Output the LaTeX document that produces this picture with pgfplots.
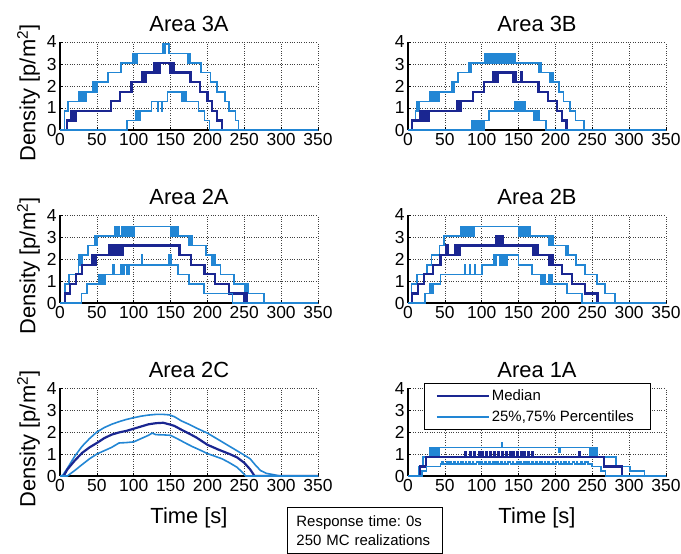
\documentclass[border=0pt]{standalone}
\usepackage{fontspec}
\setmainfont{Liberation Sans}
\usepackage{pgfplots}
\pgfplotsset{compat=1.18}

\definecolor{medcol}{RGB}{26,38,145}
\definecolor{pctcol}{RGB}{34,134,212}

\pgfplotsset{
  panel/.style={
    scale only axis, width=258bp, height=88bp, anchor=north west,
    xmin=0, xmax=350, ymin=0, ymax=4,
    xtick={0,50,...,350}, ytick={0,1,2,3,4},
    axis lines=left, axis line style={-, line width=1.1pt},
    grid=major, grid style={dotted, black!75, line width=0.6pt},
    tick style={black, line width=0.6pt}, tick align=inside, major tick length=3bp,
    ticklabel style={font=\fontsize{17.5}{17.5}\selectfont},
    /pgf/number format/assume math mode=true,
    title style={font=\fontsize{22}{22}\selectfont, yshift=1bp},
    label style={font=\fontsize{22}{22}\selectfont},
    xlabel style={yshift=-9bp},
    ylabel style={at={(ticklabel cs:0.42)}},
  },
  med/.style={medcol, line width=2.2pt, const plot, forget plot},
  pct/.style={pctcol, line width=1.6pt, const plot, forget plot},
}

\begin{document}
\begin{tikzpicture}
\useasboundingbox (0,0) rectangle (681bp,-554bp);

% ---------------- Area 3A ----------------
\begin{axis}[panel, at={(60bp,-42bp)}, title={Area 3A}, ylabel={Density [p/m\textsuperscript{2}]}]
\addplot[pct] coordinates {(0,0)(6,0.87)(11,1.30)(25,1.74)(26,1.30)(27,1.74)(28,1.30)(29,1.74)(30,1.30)(31,1.74)(32,1.30)(33,1.74)(34,1.30)(35,1.74)
 (45,2.17)(46,1.74)(47,2.17)(48,1.74)(49,2.17)(50,1.74)(51,2.17)(65,2.61)(83,3.04)
 (99,3.48)(100,3.04)(101,3.48)(102,3.04)(103,3.48)(104,3.04)(105,3.48)(139,3.91)(140,3.48)(141,3.91)(142,3.48)(143,3.91)(148,3.48)
 (173,3.04)(174,3.48)(175,3.04)(176,3.48)(177,3.04)(191,2.61)(204,2.17)(213,1.74)(224,1.30)(229,0.87)(238,0.43)(242,0)(350,0)};
\addplot[med] coordinates {(0,0)(9,0.43)(15,0.87)(17,0.43)(18,0.87)(19,0.43)(20,0.87)(21,0.43)(22,0.87)(69,1.30)(81,1.74)(96,2.17)(97,1.74)(98,2.17)
 (112,2.61)(113,2.17)(115,2.61)(116,2.17)(117,2.61)(128,3.04)(129,2.61)(130,3.04)(131,2.61)(132,3.04)(134,2.61)(135,3.04)
 (150,2.61)(151,3.04)(152,2.61)(153,3.04)(154,2.61)(177,2.17)(190,1.74)(200,1.30)(206,0.87)(213,0.43)(220,0)(350,0)};
\addplot[pct] coordinates {(0,0)(91,0.43)(103,0.87)(104,0.43)(105,0.87)(106,0.43)(107,0.87)(108,0.43)(109,0.87)(124,1.30)(132,0.87)(133,1.30)(138,0.87)(139,1.30)
 (146,1.74)(165,1.30)(166,1.74)(167,1.30)(168,1.74)(169,1.30)(170,1.74)(171,1.30)(188,0.87)(196,0.43)(203,0)(350,0)};
\end{axis}

% ---------------- Area 3B ----------------
\begin{axis}[panel, at={(408bp,-42bp)}, title={Area 3B}]
\addplot[pct] coordinates {(0,0)(5,0.43)(10,0.87)(12,1.30)(14,0.87)(15,1.30)
 (30,1.74)(31,1.30)(32,1.74)(33,1.30)(34,1.74)(35,1.30)(36,1.74)(37,1.30)(38,1.74)(39,1.30)(40,1.74)(41,1.30)(42,1.74)
 (59,2.17)(60,1.74)(61,2.17)(62,1.74)(63,2.17)(68,2.61)(82,3.04)(83,2.61)(84,3.04)(85,2.61)(86,3.04)
 (104,3.48)(105,3.04)(106,3.48)(107,3.04)(108,3.48)(110,3.04)(111,3.48)(113,3.04)(114,3.48)(116,3.04)(117,3.48)(119,3.04)(120,3.48)
 (122,3.04)(123,3.48)(125,3.04)(126,3.48)(128,3.04)(129,3.48)(131,3.04)(132,3.48)(134,3.04)(135,3.48)(137,3.04)(138,3.48)(140,3.04)(141,3.48)(143,3.04)(144,3.48)(145,3.04)
 (177,2.61)(178,3.04)(179,2.61)(180,3.04)(181,2.61)(193,2.17)(194,2.61)(195,2.17)(196,2.61)(197,2.17)
 (205,1.74)(211,1.30)(220,0.87)(227,0.43)(239,0)(350,0)};
\addplot[med] coordinates {(0,0)(5,0.43)(16,0.87)(17,0.43)(18,0.87)(19,0.43)(20,0.87)(21,0.43)(22,0.87)(23,0.43)(24,0.87)(25,0.43)(26,0.87)(27,0.43)(28,0.87)
 (66,1.30)(67,0.87)(68,1.30)(69,0.87)(70,1.30)(71,0.87)(72,1.30)(88,1.74)(103,2.17)
 (116,2.61)(117,2.17)(118,2.61)(119,2.17)(120,2.61)(121,2.17)(122,2.61)
 (143,2.17)(144,2.61)(145,2.17)(146,2.61)(147,2.17)(153,2.61)(154,2.17)(177,1.74)(190,1.30)(202,0.87)(209,0.43)(215,0)(350,0)};
\addplot[pct] coordinates {(0,0)(86,0.43)(87,0)(88,0.43)(89,0)(90,0.43)(91,0)(92,0.43)(93,0)(94,0.43)(95,0)(96,0.43)(97,0)(98,0.43)(99,0)(100,0.43)(101,0)(102,0.43)(103,0)(104,0.43)
 (110,0.87)(145,1.30)(146,0.87)(147,1.30)(148,0.87)(149,1.30)(150,0.87)(151,1.30)(152,0.87)(153,1.30)(154,0.87)(155,1.30)(157,0.87)(158,1.30)(159,0.87)
 (170,0.43)(171,0.87)(172,0.43)(173,0.87)(174,0.43)(175,0.87)(176,0.43)(177,0.87)(178,0.43)(187,0)(350,0)};
\end{axis}

% ---------------- Area 2A ----------------
\begin{axis}[panel, at={(60bp,-215bp)}, title={Area 2A}, ylabel={Density [p/m\textsuperscript{2}]}]
\addplot[pct] coordinates {(0,0)(7,0.87)(12,1.30)(25,1.74)(26,2.17)(27,1.74)(28,2.17)(29,1.74)(30,2.17)(38,2.61)(47,3.04)(48,2.61)(49,3.04)(50,2.61)(51,3.04)
 (75,3.48)(76,3.04)(79,3.48)(80,3.04)(84,3.48)(85,3.04)(86,3.48)(87,3.04)(88,3.48)(89,3.04)(90,3.48)(91,3.04)(92,3.48)(93,3.04)(94,3.48)(95,3.04)(96,3.48)(97,3.04)(98,3.48)(99,3.04)(100,3.48)
 (150,3.04)(151,3.48)(152,3.04)(153,3.48)(155,3.04)(156,3.48)(158,3.04)(159,3.48)(161,3.04)
 (175,2.61)(176,3.04)(177,2.61)(178,3.04)(179,2.61)(198,2.17)(206,1.74)(207,2.17)(208,1.74)(209,2.17)(210,1.74)
 (218,1.30)(236,0.87)(251,0.43)(252,0.87)(253,0.43)(254,0.87)(255,0.43)(277,0)(350,0)};
\addplot[med] coordinates {(0,0)(7,0.43)(14,0.87)(22,1.30)(30,1.74)(43,2.17)(44,1.74)(45,2.17)(46,1.74)(47,2.17)(48,1.74)(49,2.17)
 (66,2.61)(67,2.17)(68,2.61)(69,2.17)(70,2.61)(71,2.17)(72,2.61)(73,2.17)(74,2.61)(75,2.17)(76,2.61)(77,2.17)(78,2.61)(79,2.17)(80,2.61)(81,2.17)(82,2.61)(83,2.17)(84,2.61)(85,2.17)(86,2.61)
 (162,2.17)(178,1.74)(196,1.30)(210,0.87)(229,0.43)(250,0)(251,0.43)(252,0)(253,0.43)(254,0)(350,0)};
\addplot[pct] coordinates {(0,0)(29,0.43)(37,0.87)(52,1.30)(53,0.87)(54,1.30)(55,0.87)(56,1.30)(57,0.87)(58,1.30)(59,0.87)(60,1.30)(61,0.87)(62,1.30)
 (72,1.74)(73,1.30)(82,1.74)(83,1.30)(84,1.74)(86,1.30)(87,1.74)(90,1.30)(91,1.74)(93,1.30)(94,1.74)
 (111,2.17)(112,1.74)(148,2.17)(149,1.74)(150,2.17)(151,1.74)(160,1.30)(175,0.87)(195,0.43)(234,0)(350,0)};
\end{axis}

% ---------------- Area 2B ----------------
\begin{axis}[panel, at={(408bp,-215bp)}, title={Area 2B}]
\addplot[pct] coordinates {(0,0)(5,0.87)(12,1.30)(26,1.74)(32,2.17)(43,2.61)(49,3.04)
 (72,3.48)(73,3.04)(74,3.48)(75,3.04)(76,3.48)(77,3.04)(78,3.48)(79,3.04)(80,3.48)(81,3.04)(82,3.48)(83,3.04)(84,3.48)(85,3.04)(86,3.48)(87,3.04)(88,3.48)(89,3.04)(90,3.48)
 (150,3.04)(151,3.48)(152,3.04)(153,3.48)(154,3.04)(155,3.48)(156,3.04)(157,3.48)(158,3.04)(159,3.48)(160,3.04)(161,3.48)(162,3.04)(163,3.48)(164,3.04)(165,3.48)(166,3.04)
 (191,2.61)(192,3.04)(193,2.61)(194,3.04)(195,2.61)(196,3.04)(197,2.61)(214,2.17)(215,2.61)(216,2.17)(217,2.61)(218,2.17)
 (228,1.74)(240,1.30)(256,0.87)(267,0.43)(281,0)(350,0)};
\addplot[med] coordinates {(0,0)(5,0.43)(14,0.87)(22,1.30)(34,1.74)(44,2.17)(51,2.61)(52,2.17)(53,2.61)(54,2.17)
 (64,2.61)(65,2.17)(66,2.61)(67,2.17)(68,2.61)(69,2.17)(70,2.61)(120,3.04)(121,2.61)(124,3.04)(125,2.61)(128,3.04)(129,2.61)
 (170,2.17)(171,2.61)(172,2.17)(173,2.61)(174,2.17)(175,2.61)(176,2.17)(192,1.74)(193,2.17)(194,1.74)(195,2.17)(196,1.74)
 (209,1.30)(223,0.87)(240,0.43)(257,0)(350,0)};
\addplot[pct] coordinates {(0,0)(23,0.43)(30,0.87)(31,0.43)(32,0.87)(33,0.43)(34,0.87)(44,1.30)(77,1.74)(78,1.30)(84,1.74)(85,1.30)(90,1.74)(91,1.30)
 (100,1.74)(116,2.17)(117,1.74)(118,2.17)(119,1.74)(120,2.17)(125,1.74)(126,2.17)(128,1.74)(129,2.17)(131,1.74)(132,2.17)(134,1.74)(135,2.17)
 (150,1.74)(168,1.30)(180,0.87)(181,1.30)(182,0.87)(183,1.30)(184,0.87)(185,1.30)(186,0.87)(191,1.30)(192,0.87)(194,1.30)(195,0.87)
 (216,0.43)(236,0)(350,0)};
\end{axis}

% ---------------- Area 2C ----------------
\begin{axis}[panel, at={(60bp,-388bp)}, title={Area 2C}, ylabel={Density [p/m\textsuperscript{2}]}, xlabel={Time [s]}]
\addplot[pct, sharp plot] coordinates {(0,0)(3,0)(10,0.35)(20,0.9)(30,1.35)(40,1.7)(50,2.0)(60,2.2)(70,2.35)(80,2.47)(90,2.57)(100,2.65)(110,2.72)(120,2.77)(130,2.8)(140,2.8)(148,2.78)
 (155,2.7)(165,2.5)(175,2.35)(185,2.18)(200,1.95)(215,1.65)(230,1.35)(240,1.15)(250,0.95)(258,0.78)(265,0.5)(272,0.25)(280,0.12)(290,0.06)(298,0)(350,0)};
\addplot[med, sharp plot] coordinates {(0,0)(5,0)(10,0.3)(20,0.7)(30,1.05)(40,1.3)(50,1.5)(60,1.72)(70,1.88)(80,1.98)(90,2.05)(100,2.15)(110,2.25)(120,2.35)(130,2.4)(140,2.42)(148,2.35)
 (155,2.28)(165,2.1)(175,1.93)(185,1.75)(200,1.42)(215,1.2)(230,1.0)(240,0.85)(250,0.6)(258,0.3)(264,0)(350,0)};
\addplot[pct, sharp plot] coordinates {(0,0)(10,0)(20,0.25)(30,0.52)(40,0.78)(50,1.0)(60,1.15)(70,1.3)(80,1.5)(90,1.52)(100,1.55)(110,1.7)(120,1.85)(125,1.95)(130,1.88)(140,1.87)(150,1.85)
 (160,1.68)(170,1.5)(180,1.33)(190,1.18)(200,1.02)(210,0.9)(220,0.78)(230,0.6)(240,0.4)(248,0.15)(252,0)(350,0)};
\end{axis}

% ---------------- Area 1A ----------------
\begin{axis}[panel, at={(408bp,-388bp)}, title={Area 1A}, xlabel={Time [s]},
  legend style={at={(0.943,1.056)}, anchor=north east, draw=black, line width=0.9pt, fill=white,
    font=\fontsize{15}{15}\selectfont, row sep=5bp, inner xsep=11bp, inner ysep=4bp},
  legend cell align=left,
  legend image code/.code={\draw[#1] (0bp,0bp) -- (52bp,0bp);}]
\addlegendimage{medcol, line width=2.2pt}
\addlegendentry{\makebox[146bp][l]{\fontsize{15}{15}\selectfont Median}}
\addlegendimage{pctcol, line width=1.6pt}
\addlegendentry{\makebox[146bp][l]{\fontsize{15}{15}\selectfont 25\%,75\% Percentiles}}
\addplot[pct] coordinates {(0,0)(15,0.43)(20,0.87)(30,1.30)(31,0.87)(32,1.30)(33,0.87)(34,1.30)(35,0.87)(36,1.30)(37,0.87)(38,1.30)(39,0.87)(40,1.30)(41,0.87)(42,1.30)
 (127,1.52)(128,1.30)(205,1.09)(207,1.30)(247,0.87)(248,1.30)(249,0.87)(250,1.30)(251,0.87)(252,1.30)(253,0.87)(254,1.30)(255,0.87)(256,1.30)(257,0.87)
 (282,0.43)(301,0.22)(321,0)(350,0)};
\addplot[med] coordinates {(0,0)(16,0.43)(24,0.87)(78,1.09)(79,0.87)(84,1.09)(85,0.87)(90,1.09)(91,0.87)(96,1.09)(97,0.87)(100,1.09)(101,0.87)(106,1.09)(107,0.87)
 (112,1.09)(113,0.87)(117,1.09)(118,0.87)(122,1.09)(123,0.87)(128,1.09)(129,0.87)(133,1.09)(134,0.87)(138,1.09)(139,0.87)(143,1.09)(144,0.87)
 (148,1.09)(149,0.87)(153,1.09)(154,0.87)(158,1.09)(159,0.87)(163,1.09)(164,0.87)(168,1.09)(169,0.87)(232,1.09)(233,0.87)(266,0.43)(290,0)(350,0)};
\addplot[pct] coordinates {(0,0)(19,0.22)(25,0.43)(44,0.54)(46,0.65)(48,0.54)(52,0.65)(54,0.54)(57,0.65)(58,0.54)(62,0.65)(64,0.54)(67,0.65)(68,0.54)(72,0.65)(75,0.54)
 (78,0.65)(79,0.54)(83,0.65)(85,0.54)(88,0.65)(89,0.54)(93,0.65)(96,0.54)(99,0.65)(100,0.54)(104,0.65)(106,0.54)(110,0.65)(111,0.54)(115,0.65)(118,0.54)
 (121,0.65)(122,0.54)(126,0.65)(128,0.54)(131,0.65)(132,0.54)(136,0.65)(139,0.54)(142,0.65)(143,0.54)(147,0.65)(149,0.54)(152,0.65)(153,0.54)(157,0.65)(160,0.54)
 (163,0.65)(164,0.54)(168,0.65)(170,0.54)(174,0.65)(175,0.54)(179,0.65)(182,0.54)(185,0.65)(186,0.54)(190,0.65)(192,0.54)(196,0.65)(197,0.54)(201,0.65)(204,0.54)
 (207,0.65)(208,0.54)(212,0.65)(214,0.54)(218,0.65)(219,0.54)(223,0.65)(226,0.54)(229,0.65)(230,0.54)(234,0.65)(236,0.54)(240,0.65)(244,0.54)
 (250,0.43)(262,0.22)(268,0)(350,0)};
\end{axis}

% run information box
\node[draw=black, line width=0.9pt, anchor=north west, align=left, text width=137bp, inner xsep=9bp,
  minimum height=46bp, font=\fontsize{15}{19}\selectfont] at (287bp,-507bp)
  {Response time:\ 0s\\250 MC realizations};
\end{tikzpicture}
\end{document}
